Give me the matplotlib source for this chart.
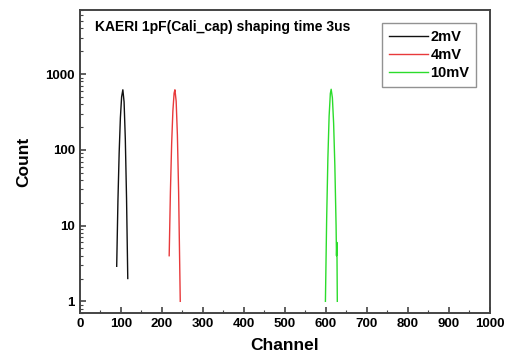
import matplotlib
matplotlib.use("Agg")
import matplotlib.pyplot as plt
from matplotlib.ticker import LogLocator, FixedLocator, MultipleLocator, NullFormatter

plt.rcParams["font.family"] = ["Liberation Sans", "DejaVu Sans"]
plt.rcParams["font.weight"] = "bold"

# channel / count readings for each pulser amplitude
ch_2mv = [90, 93, 96, 99, 102, 105, 108, 111, 114, 117]
cnt_2mv = [2.9, 21, 91, 265, 500, 620, 430, 140, 23, 2]

ch_4mv = [218, 221, 224, 227, 230, 232, 235, 238, 241, 245]
cnt_4mv = [4, 28, 120, 325, 560, 620, 440, 157, 28, 1]

ch_10mv = [599, 602, 605, 608, 611, 613, 616, 619, 622, 625, 626, 627, 628]
cnt_10mv = [1, 12, 77, 277, 553, 630, 487, 225, 62, 10, 4, 6, 1]

series_labels = ["2mV", "4mV", "10mV"]
series_colors = ["#111111", "#e8393b", "#2bdc2b"]
title_text = "KAERI 1pF(Cali_cap) shaping time 3us"

x_ticks = list(range(0, 1001, 100))
y_ticks = [1, 10, 100, 1000]

fig = plt.figure(figsize=(5.05, 3.59), dpi=100)
ax = fig.add_axes([0.158, 0.128, 0.812, 0.844])

for xs, ys, lab, col in zip([ch_2mv, ch_4mv, ch_10mv],
                            [cnt_2mv, cnt_4mv, cnt_10mv],
                            series_labels, series_colors):
    ax.plot(xs, ys, color=col, lw=1.0, label=lab)

ax.set_yscale("log")
ax.set_xlim(0, 1000)
ax.set_ylim(0.7, 7000)

ax.xaxis.set_major_locator(FixedLocator(x_ticks))
ax.xaxis.set_minor_locator(MultipleLocator(50))
ax.yaxis.set_major_locator(FixedLocator(y_ticks))
ax.yaxis.set_minor_locator(LogLocator(base=10, subs=range(2, 10)))
ax.yaxis.set_minor_formatter(NullFormatter())
ax.set_yticklabels([str(v) for v in y_ticks])

ax.tick_params(which="major", direction="in", length=4, width=1.2,
               labelsize=9.5, color="#444444", top=False, right=False)
ax.tick_params(which="minor", direction="in", length=2, width=0.8,
               color="#444444", top=False, right=False)
for lbl in ax.get_xticklabels() + ax.get_yticklabels():
    lbl.set_fontweight("bold")

for sp in ax.spines.values():
    sp.set_linewidth(1.4)
    sp.set_color("#444444")

ax.set_xlabel("Channel", fontsize=12.5, fontweight="bold", labelpad=6)
ax.set_ylabel("Count", fontsize=12.5, fontweight="bold", labelpad=10)

ax.text(0.036, 0.945, title_text, transform=ax.transAxes, fontsize=10,
        fontweight="bold", va="center", ha="left")

leg = ax.legend(loc="upper right", bbox_to_anchor=(0.966, 0.957),
                borderaxespad=0, handlelength=2.7, handletextpad=0.15,
                borderpad=0.45, labelspacing=0.3, fancybox=False,
                prop={"weight": "bold", "size": 10.5})
leg.get_frame().set_edgecolor("#777777")
leg.get_frame().set_linewidth(1.0)

fig.savefig("out.png", dpi=100)
